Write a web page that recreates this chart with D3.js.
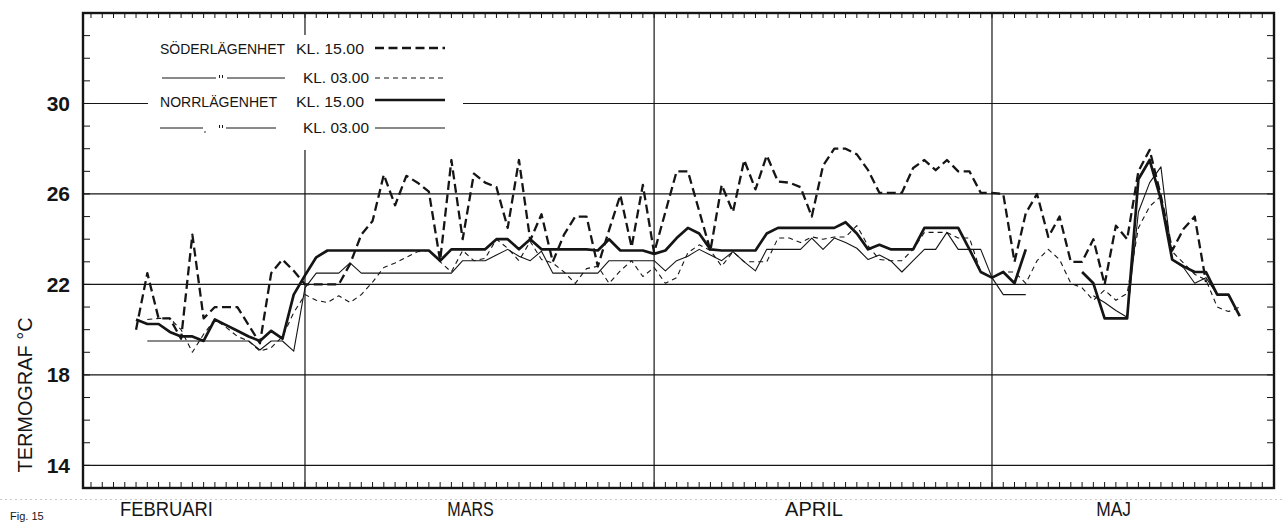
<!DOCTYPE html>
<html>
<head>
<meta charset="utf-8">
<script src="https://cdn.jsdelivr.net/npm/d3@7"></script>
<style>
  html, body { margin: 0; padding: 0; background: #fff; }
  svg { display: block; }
  text { font-family: "Liberation Sans", Arial, sans-serif; fill: #151515; }
</style>
</head>
<body>
<svg id="chart" width="1282" height="522"></svg>
<script>
// days are counted from 1 March (negative = February)
const monthStarts = [0, 31, 61];
const monthNames = ["FEBRUARI", "MARS", "APRIL", "MAJ"];
const monthLabelDays = [-12.3, 14.7, 45.2, 71.8];
const yTicks = [14, 18, 22, 26, 30];

// Söderlägenhet kl. 15.00 (thick dashed)
const soder15Start = -15;
const soder15 = [
  20.0, 22.5, 20.5, 20.5, 19.6, 24.2, 20.5, 21.0, 21.0, 21.0, 20.2, 19.4, 22.5, 23.1, 22.6,
  22.0, 22.0, 22.0, 22.0, 22.9, 24.2, 24.8, 26.85, 25.5, 26.8, 26.5, 26.1, 23.05, 27.5, 24.0,
  26.9, 26.5, 26.3, 24.5, 27.5, 23.95, 25.1, 23.0, 24.2, 25.0, 25.0, 22.8, 24.4, 25.95, 23.65,
  26.4, 23.4, 25.2, 27.0, 27.0, 25.25, 23.5, 26.4, 25.2, 27.5, 26.2, 27.7, 26.55, 26.5, 26.3,
  25.0, 27.25, 28.0, 28.0, 27.75, 27.05, 26.05, 26.05, 26.05, 27.15, 27.5, 27.05, 27.5, 27.0, 27.0,
  26.05, 26.05, 26.0, 23.0, 25.15, 26.0, 24.1, 25.0, 23.0, 23.0, 24.0, 22.0, 24.6, 24.0, 27.0,
  27.95, 25.9, 23.5, 24.45, 25.0, 22.1
];

// Söderlägenhet kl. 03.00 (thin dashed)
const soder03Start = -14;
const soder03 = [
  20.45, 20.5, 20.5, 20.0, 19.0, 19.8, 20.45, 20.1, 19.7, 19.5, 19.05, 19.2, 19.7, 20.75,
  21.55, 21.3, 21.2, 21.5, 21.2, 21.55, 22.1, 22.75, 22.95, 23.2, 23.45, 23.5, 23.0, 22.55, 23.5,
  23.05, 23.15, 24.0, 23.6, 23.05, 23.9, 23.1, 22.95, 22.55, 22.05, 22.7, 22.8, 22.05, 22.6, 23.05,
  22.35, 22.75, 22.05, 22.3, 23.4, 23.75, 23.5, 22.8, 23.45, 23.0, 23.0, 23.0, 24.05, 24.05, 23.85,
  24.1, 24.0, 24.1, 24.1, 24.6, 23.7, 23.1, 23.05, 23.05, 23.55, 24.3, 24.3, 24.3, 24.05, 24.05,
  22.55, 22.3, 22.55, 22.55, 22.05, 23.05, 23.55, 23.1, 22.05, 21.85, 21.3, 21.75, 21.3, 21.6, 24.5,
  25.45, 25.9, 23.45, 22.95, 22.45, 22.2, 21.0, 20.8, 21.0
];

// Norrlägenhet kl. 15.00 (thick solid)
const norr15Start = -15;
const norr15 = [
  20.45, 20.25, 20.25, 19.9, 19.7, 19.7, 19.5, 20.45, 20.2, 19.95, 19.7, 19.5, 19.95, 19.6, 21.55,
  22.4, 23.2, 23.5, 23.5, 23.5, 23.5, 23.5, 23.5, 23.5, 23.5, 23.5, 23.5, 23.05, 23.55, 23.55,
  23.55, 23.55, 24.0, 24.0, 23.55, 24.0, 23.55, 23.55, 23.55, 23.55, 23.55, 23.5, 24.0, 23.5, 23.5,
  23.5, 23.35, 23.5, 24.05, 24.5, 24.25, 23.55, 23.5, 23.5, 23.5, 23.5, 24.25, 24.5, 24.5, 24.5,
  24.5, 24.5, 24.5, 24.75, 24.25, 23.55, 23.75, 23.55, 23.55, 23.55, 24.5, 24.5, 24.5, 24.5, 23.55,
  22.55, 22.3, 22.55, 22.05, 23.55, null, null, null, null, 22.55, 22.05, 20.5, 20.5, 20.5, 26.65,
  27.5, 25.75, 23.1, 22.8, 22.55, 22.55, 21.55, 21.55, 20.6
];

// Norrlägenhet kl. 03.00 (thin solid)
const norr03Start = -14;
const norr03 = [
  19.5, 19.5, 19.5, 19.5, 19.5, 19.5, 19.5, 19.5, 19.5, 19.5, 19.1, 19.5, 19.5, 19.05,
  21.85, 22.5, 22.5, 22.5, 22.95, 22.5, 22.5, 22.5, 22.5, 22.5, 22.5, 22.5, 22.5, 22.5, 23.05,
  23.05, 23.05, 23.3, 23.55, 23.25, 23.05, 23.47, 22.5, 22.5, 22.5, 22.5, 22.5, 23.05, 23.05, 23.05,
  23.05, 23.05, 22.6, 23.05, 23.25, 23.55, 23.3, 23.05, 23.45, 23.0, 22.6, 23.55, 23.55, 23.55, 23.55,
  24.05, 23.55, 24.05, 23.85, 23.6, 23.1, 23.3, 23.05, 22.55, 23.05, 23.55, 23.55, 24.3, 23.55, 23.55,
  23.55, 22.3, 21.55, 21.55, 21.55, null, null, null, null, null, 21.5, 21.2, 20.85, 20.55, 25.2,
  26.5, 27.2, 23.1, 22.75, 22.05, 22.3, 21.55
];

const series = [
  { start: soder15Start, values: soder15, width: 2.3, dash: "9,4.5" },
  { start: soder03Start, values: soder03, width: 1.1, dash: "5,4" },
  { start: norr15Start, values: norr15, width: 2.7, dash: null },
  { start: norr03Start, values: norr03, width: 1.1, dash: null }
];

const frame = { left: 83, right: 1274, top: 13, bottom: 488 };
const ink = "#151515";

const svg = d3.select("#chart");

const x = d3.scaleLinear().domain([-19.71, 86.04]).range([frame.left, frame.right]);
const y = d3.scaleLinear().domain([13, 34]).range([frame.bottom, frame.top]);

// faint scan line under the frame
svg.append("line")
  .attr("x1", 0).attr("x2", 1282).attr("y1", 499.5).attr("y2", 499.5)
  .attr("stroke", "#c8c8c8").attr("stroke-width", 1).attr("stroke-dasharray", "2,3");

const grid = svg.append("g").attr("stroke", ink).attr("stroke-width", 1.2);

// horizontal grid lines (30 is broken by the legend)
yTicks.forEach((t) => {
  if (t === 30) {
    grid.append("line").attr("x1", frame.left).attr("x2", 148).attr("y1", y(t)).attr("y2", y(t));
    grid.append("line").attr("x1", 463).attr("x2", frame.right).attr("y1", y(t)).attr("y2", y(t));
  } else {
    grid.append("line").attr("x1", frame.left).attr("x2", frame.right).attr("y1", y(t)).attr("y2", y(t));
  }
});

// month boundaries (1 March line is broken by the legend)
monthStarts.forEach((d) => {
  if (d === 0) {
    grid.append("line").attr("x1", x(d)).attr("x2", x(d)).attr("y1", frame.top).attr("y2", 35);
    grid.append("line").attr("x1", x(d)).attr("x2", x(d)).attr("y1", 150).attr("y2", frame.bottom);
  } else {
    grid.append("line").attr("x1", x(d)).attr("x2", x(d)).attr("y1", frame.top).attr("y2", frame.bottom);
  }
});

// day ticks on top and bottom, degree ticks left and right
const dayTicks = x.ticks(120).filter((d) => Number.isInteger(d));
const degTicks = d3.range(14, 34);
const ticks = svg.append("g").attr("stroke", ink).attr("stroke-width", 1);

dayTicks.forEach((d) => {
  ticks.append("line").attr("x1", x(d)).attr("x2", x(d)).attr("y1", frame.top).attr("y2", frame.top + 5);
  ticks.append("line").attr("x1", x(d)).attr("x2", x(d)).attr("y1", frame.bottom).attr("y2", frame.bottom - 6);
});
degTicks.forEach((v) => {
  ticks.append("line").attr("x1", frame.left).attr("x2", frame.left + 7).attr("y1", y(v)).attr("y2", y(v));
  ticks.append("line").attr("x1", frame.right).attr("x2", frame.right - 7).attr("y1", y(v)).attr("y2", y(v));
});

// frame
svg.append("rect")
  .attr("x", frame.left).attr("y", frame.top)
  .attr("width", frame.right - frame.left).attr("height", frame.bottom - frame.top)
  .attr("fill", "none").attr("stroke", ink).attr("stroke-width", 2.4);

// y tick labels
svg.append("g")
  .selectAll("text")
  .data(yTicks)
  .join("text")
  .attr("x", 70)
  .attr("y", (d) => y(d) + 7.5)
  .attr("text-anchor", "end")
  .attr("font-size", 21)
  .attr("font-weight", "bold")
  .text((d) => d);

// y axis title
svg.append("text")
  .attr("transform", "translate(32,395) rotate(-90)")
  .attr("text-anchor", "middle")
  .attr("font-size", 21)
  .attr("textLength", 155)
  .attr("lengthAdjust", "spacingAndGlyphs")
  .text("TERMOGRAF °C");

// month labels
svg.append("g")
  .selectAll("text")
  .data(monthNames)
  .join("text")
  .attr("x", (d, i) => x(monthLabelDays[i]))
  .attr("y", 516)
  .attr("text-anchor", "middle")
  .attr("font-size", 21)
  .attr("textLength", (d) => d.length * 11.6)
  .attr("lengthAdjust", "spacingAndGlyphs")
  .text((d) => d);

// caption at the bottom edge
svg.append("text")
  .attr("x", 10).attr("y", 520)
  .attr("font-size", 11)
  .text("Fig. 15");

// data lines
series.forEach((s) => {
  svg.append("path")
    .attr("d", d3.line()
      .defined((v) => v != null)
      .x((v, i) => x(s.start + i))
      .y((v) => y(v))(s.values))
    .attr("fill", "none")
    .attr("stroke", ink)
    .attr("stroke-width", s.width)
    .attr("stroke-linejoin", "round")
    .attr("stroke-dasharray", s.dash);
});

// legend
const legend = svg.append("g").attr("font-size", 15);
const legRows = [
  { name: "SÖDERLÄGENHET", time: "KL. 15.00", base: 54, ly: 48, s: series[0] },
  { name: null, time: "KL. 03.00", base: 83, ly: 78, s: series[1] },
  { name: "NORRLÄGENHET", time: "KL. 15.00", base: 107, ly: 100, s: series[2] },
  { name: null, time: "KL. 03.00", base: 133, ly: 128, s: series[3] }
];
const nameLen = { "SÖDERLÄGENHET": 125, "NORRLÄGENHET": 117 };

legRows.forEach((r, i) => {
  if (r.name) {
    legend.append("text").attr("x", 160).attr("y", r.base)
      .attr("textLength", nameLen[r.name]).attr("lengthAdjust", "spacingAndGlyphs")
      .text(r.name);
  } else {
    // ditto row: line, ditto mark, line
    const yy = r.base - 5;
    const segs = i === 1 ? [[162, 216], [227, 285]] : [[160, 203], [226, 276]];
    segs.forEach((sg) => legend.append("line")
      .attr("x1", sg[0]).attr("x2", sg[1]).attr("y1", yy).attr("y2", yy)
      .attr("stroke", ink).attr("stroke-width", 1));
    [219.5, 222.5].forEach((dx) => legend.append("line")
      .attr("x1", dx).attr("x2", dx).attr("y1", yy - 3).attr("y2", yy)
      .attr("stroke", ink).attr("stroke-width", 1));
    if (i === 3) {
      legend.append("circle").attr("cx", 205).attr("cy", yy + 4).attr("r", 0.8).attr("fill", ink);
    }
  }
  const tx = r.time === "KL. 15.00" ? 296 : 303;
  legend.append("text").attr("x", tx).attr("y", r.base)
    .attr("textLength", r.time === "KL. 15.00" ? 68 : 66).attr("lengthAdjust", "spacingAndGlyphs")
    .text(r.time);
  legend.append("line")
    .attr("x1", 375).attr("x2", 445).attr("y1", r.ly).attr("y2", r.ly)
    .attr("stroke", ink).attr("stroke-width", r.s.width)
    .attr("stroke-dasharray", r.s.dash);
});
</script>
</body>
</html>
